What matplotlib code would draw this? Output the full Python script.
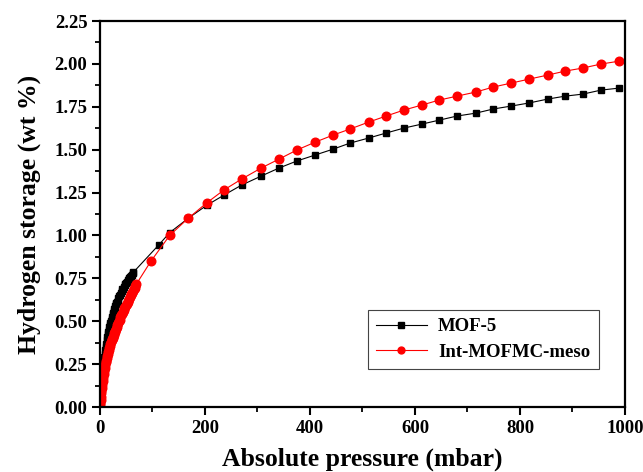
import matplotlib
matplotlib.use("Agg")
import matplotlib.pyplot as plt
from matplotlib.ticker import MultipleLocator, FormatStrFormatter

plt.rcParams['font.family'] = ['Liberation Serif', 'DejaVu Serif']
plt.rcParams['font.weight'] = 'bold'

# MOF-5 (black squares)
mof5_p = [0.2, 0.6, 1, 1.5, 2, 2.5, 3,
          4, 5, 6, 7, 8, 9, 10, 11, 12, 13, 14, 15, 16, 17, 18, 19, 20, 21, 22, 23, 24, 25,
          26, 27, 28, 29, 30, 31, 32,
          33.5, 35, 36.5, 38, 39.5, 41, 42.5, 44, 45.5, 47, 48.5, 50, 51.5, 53, 54.5, 56,
          57.5, 59, 60.5, 62, 63.5,
          112, 133, 168, 203, 236, 270, 307, 341, 375, 410, 444, 476, 512, 545, 579, 613,
          646, 680, 716, 749, 783, 817, 853, 886, 920, 954, 989]
mof5_w = [0.01, 0.04, 0.06, 0.08, 0.10, 0.12, 0.14,
          0.17, 0.20, 0.23, 0.26, 0.29, 0.31, 0.33, 0.35, 0.37, 0.39, 0.41, 0.425, 0.44, 0.45,
          0.465, 0.48, 0.49, 0.50, 0.515, 0.525, 0.54, 0.55, 0.56, 0.57, 0.58, 0.59, 0.60,
          0.605, 0.61,
          0.62, 0.635, 0.645, 0.655, 0.665, 0.675, 0.685, 0.69, 0.70, 0.71, 0.715, 0.725,
          0.73, 0.74, 0.745, 0.75, 0.755, 0.765, 0.77, 0.78, 0.785,
          0.945, 1.017, 1.100, 1.175, 1.235, 1.294, 1.346, 1.393, 1.434, 1.469, 1.503, 1.538,
          1.568, 1.597, 1.626, 1.649, 1.672, 1.696, 1.713, 1.737, 1.754, 1.772, 1.795, 1.812,
          1.824, 1.847, 1.859]

# Int-MOFMC-meso (red circles)
meso_p = [0.2, 0.6, 1, 1.5, 2, 2.5, 3,
          4, 5, 6, 7, 8, 9, 10, 11, 12, 13, 14, 15, 16, 17, 18, 19, 20, 21, 22, 23, 24, 25,
          26, 27, 28, 29, 30,
          31.5, 33, 34.5, 36, 37.5, 39, 40.5, 42, 43.5, 45, 46.5, 48, 49.5, 51, 52.5, 54,
          55.5, 57, 58.5, 60, 61.5, 63, 64.5, 66, 67.5, 69,
          97, 133, 168, 203, 236, 270, 307, 341, 375, 410, 444, 476, 512, 545, 579, 613,
          646, 680, 716, 749, 783, 817, 853, 886, 920, 954, 989]
meso_w = [0.01, 0.025, 0.04, 0.06, 0.08, 0.095, 0.11,
          0.13, 0.15, 0.17, 0.19, 0.21, 0.23, 0.245, 0.26, 0.27, 0.285, 0.30, 0.31, 0.32,
          0.335, 0.345, 0.355, 0.37, 0.38, 0.39, 0.395, 0.40, 0.41, 0.42, 0.43, 0.44, 0.445,
          0.455,
          0.465, 0.48, 0.49, 0.50, 0.51, 0.525, 0.535, 0.545, 0.555, 0.565, 0.575, 0.585,
          0.595, 0.60, 0.61, 0.62, 0.63, 0.64, 0.65, 0.66, 0.665, 0.675, 0.685, 0.695, 0.705,
          0.715,
          0.850, 1.001, 1.100, 1.189, 1.265, 1.329, 1.393, 1.445, 1.498, 1.544, 1.585, 1.620,
          1.661, 1.696, 1.731, 1.760, 1.789, 1.812, 1.836, 1.865, 1.888, 1.911, 1.935, 1.958,
          1.976, 1.999, 2.016]

series_labels = ["MOF-5", "Int-MOFMC-meso"]

fig = plt.figure(figsize=(6.43, 4.72), dpi=100)
ax = fig.add_axes([0.1555, 0.1377, 0.8165, 0.8178])

ax.plot(mof5_p, mof5_w, color='black', lw=0.8, marker='s', ms=5.0,
        mec='black', mfc='black', label=series_labels[0])
ax.plot(meso_p, meso_w, color='red', lw=0.8, marker='o', ms=6.2,
        mec='red', mfc='red', label=series_labels[1])

ax.set_xlim(0, 1000)
ax.set_ylim(0, 2.25)
ax.xaxis.set_major_locator(MultipleLocator(200))
ax.xaxis.set_minor_locator(MultipleLocator(100))
ax.yaxis.set_major_locator(MultipleLocator(0.25))
ax.yaxis.set_minor_locator(MultipleLocator(0.125))
ax.yaxis.set_major_formatter(FormatStrFormatter('%.2f'))

for s in ax.spines.values():
    s.set_linewidth(1.6)
ax.tick_params(which='major', direction='out', length=6, width=1.5, labelsize=13.5,
               top=False, right=False, pad=3)
ax.tick_params(which='minor', direction='out', length=3.5, width=1.3, top=False, right=False)
for lab in ax.get_xticklabels() + ax.get_yticklabels():
    lab.set_fontweight('bold')

ax.set_xlabel('Absolute pressure (mbar)', fontsize=18.5, fontweight='bold', labelpad=8)
ax.set_ylabel('Hydrogen storage (wt %)', fontsize=18.5, fontweight='bold', labelpad=10)

leg = ax.legend(loc='center', bbox_to_anchor=(0.51, 0.093, 0.44, 0.163), mode='expand',
                fancybox=False, edgecolor='#444444', framealpha=1, markerscale=0.8,
                prop={'weight': 'bold', 'size': 13.5}, handlelength=2.7, handletextpad=0.6,
                borderpad=0.45, labelspacing=0.45, borderaxespad=0)
leg.get_frame().set_linewidth(0.8)

fig.savefig('out.png', dpi=100)
